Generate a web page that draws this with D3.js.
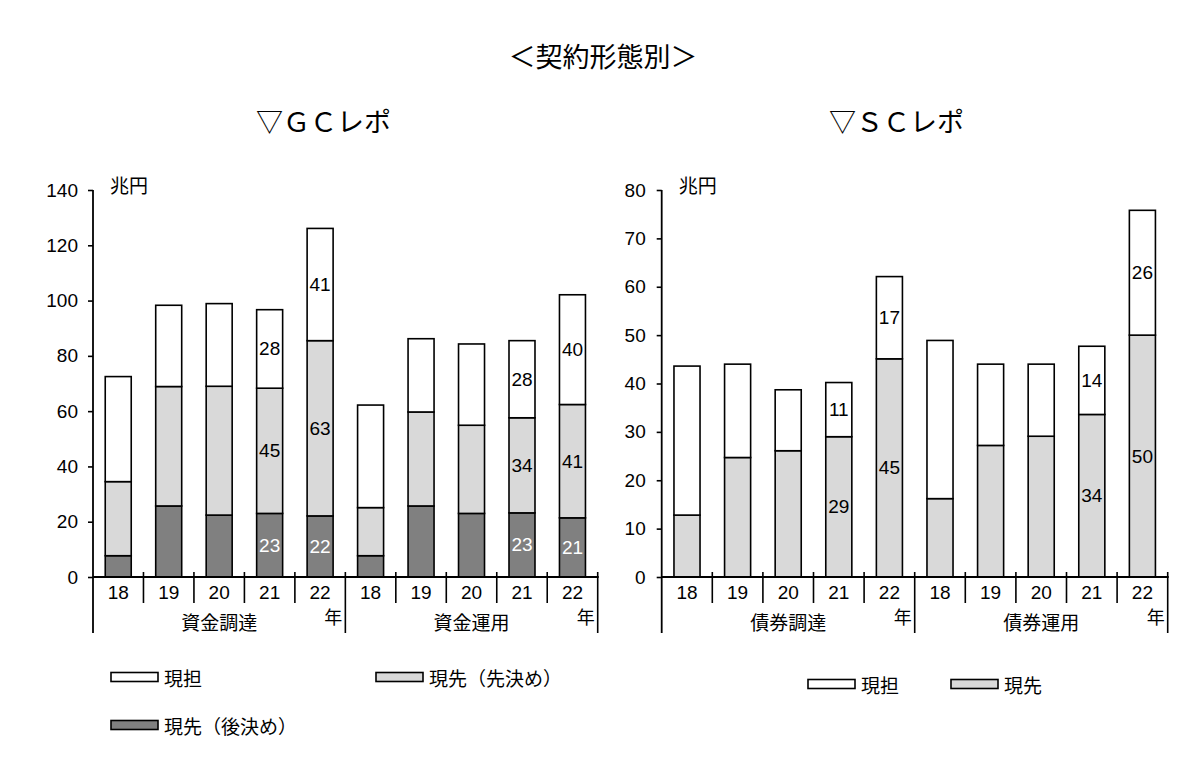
<!DOCTYPE html>
<html>
<head>
<meta charset="utf-8">
<script src="https://cdn.jsdelivr.net/npm/d3@7"></script>
<style>
  body { margin: 0; background: #fff; }
  svg { display: block; }
  .jp { font-family: "Noto Sans CJK JP", "Noto Sans", sans-serif; fill: #000; }
  .num { font-family: "Liberation Sans Narrow", "Liberation Sans", Arial, sans-serif; fill: #000; }
</style>
</head>
<body>
<svg width="1200" height="757"></svg>
<script>
// categories
const years = ["18", "19", "20", "21", "22"];
const gcGroups = ["資金調達", "資金運用"];
const scGroups = ["債券調達", "債券運用"];
const labelYears = ["21", "22"];

// GC repo (兆円), order: 資金調達 18..22, 資金運用 18..22
const gcAtoKime = [7.7, 25.7, 22.4, 23.0, 22.1, 7.7, 25.7, 23.0, 23.2, 21.4];   // 現先（後決め）
const gcSakiKime = [26.8, 43.2, 46.6, 45.3, 63.4, 17.4, 34.0, 31.9, 34.4, 41.0]; // 現先（先決め）
const gcGentan = [38.0, 29.4, 29.9, 28.4, 40.6, 37.1, 26.5, 29.4, 27.9, 39.7];   // 現担

// SC repo (兆円), order: 債券調達 18..22, 債券運用 18..22
const scGensaki = [12.8, 24.7, 26.1, 29.0, 45.1, 16.2, 27.2, 29.1, 33.6, 50.0]; // 現先
const scGentan = [30.8, 19.3, 12.6, 11.2, 17.0, 32.7, 16.8, 14.9, 14.1, 25.8];   // 現担

const gcTicks = [0, 20, 40, 60, 80, 100, 120, 140];
const scTicks = [0, 10, 20, 30, 40, 50, 60, 70, 80];

const svg = d3.select("svg");

// titles
svg.append("text").attr("class", "jp")
    .attr("x", 603).attr("y", 55)
    .attr("text-anchor", "middle").attr("dominant-baseline", "central")
    .attr("font-size", 27)
    .text("＜契約形態別＞");

/**
 * Draw one stacked bar panel
 */
function drawPanel(opt) {
    const g = svg.append("g");
    const keys = [];
    opt.groups.forEach(gr => years.forEach(y => keys.push(gr + "-" + y)));

    const x = d3.scaleBand()
        .domain(keys)
        .range([opt.x0, opt.x1])
        .paddingInner(0.485)
        .paddingOuter(0.2425);
    const step = x.step();

    const y = d3.scaleLinear()
        .domain([0, d3.max(opt.ticks)])
        .range([577, 190]);

    // stacked rows
    const rows = keys.map((k, i) => {
        const row = { key: k, year: k.split("-")[1] };
        opt.series.forEach(s => { row[s.name] = s.values[i]; });
        return row;
    });
    const stack = d3.stack().keys(opt.series.map(s => s.name))(rows);

    stack.forEach((layer, li) => {
        const s = opt.series[li];
        g.append("g").selectAll("rect")
            .data(layer)
            .join("rect")
            .attr("x", d => x(d.data.key))
            .attr("width", x.bandwidth())
            .attr("y", d => y(d[1]))
            .attr("height", d => y(d[0]) - y(d[1]))
            .attr("fill", s.color)
            .attr("stroke", "#000")
            .attr("stroke-width", 1.6);

        g.append("g").selectAll("text")
            .data(layer.filter(d => labelYears.includes(d.data.year)))
            .join("text")
            .attr("class", "num")
            .attr("x", d => x(d.data.key) + x.bandwidth() / 2)
            .attr("y", d => (y(d[0]) + y(d[1])) / 2)
            .attr("text-anchor", "middle")
            .attr("dominant-baseline", "central")
            .attr("font-size", 19)
            .style("fill", s.labelColor)
            .text(d => Math.round(d[1] - d[0]));
    });

    // y axis
    const yAxis = g.append("g")
        .attr("transform", `translate(${opt.x0},0)`)
        .call(d3.axisLeft(y).tickValues(opt.ticks).tickSize(5).tickPadding(opt.tickPad));
    yAxis.select(".domain").remove();
    yAxis.selectAll(".tick line").attr("stroke", "#000").attr("stroke-width", 1.6);
    yAxis.selectAll(".tick text")
        .attr("class", "num")
        .attr("font-size", 19)
        .attr("fill", "#000");

    g.append("line")
        .attr("x1", opt.x0).attr("x2", opt.x0)
        .attr("y1", y.range()[1]).attr("y2", 633)
        .attr("stroke", "#000").attr("stroke-width", 1.8);

    // x axis
    g.append("line")
        .attr("x1", opt.x0).attr("x2", opt.x1 + 1)
        .attr("y1", y(0)).attr("y2", y(0))
        .attr("stroke", "#000").attr("stroke-width", 1.8);

    // dividers between categories
    for (let i = 1; i <= keys.length; i++) {
        const xx = opt.x0 + i * step;
        const groupEdge = i % years.length === 0;
        g.append("line")
            .attr("x1", xx).attr("x2", xx)
            .attr("y1", y(0) - 5).attr("y2", groupEdge ? 633 : 603)
            .attr("stroke", "#000").attr("stroke-width", 1.6);
    }

    // year labels
    g.append("g").selectAll("text")
        .data(keys)
        .join("text")
        .attr("class", "num")
        .attr("x", k => x(k) + x.bandwidth() / 2)
        .attr("y", 592)
        .attr("text-anchor", "middle")
        .attr("dominant-baseline", "central")
        .attr("font-size", 19)
        .text(k => k.split("-")[1]);

    // group labels and 年
    opt.groups.forEach((gr, gi) => {
        const left = opt.x0 + gi * years.length * step;
        const right = left + years.length * step;
        g.append("text").attr("class", "jp")
            .attr("x", (left + right) / 2).attr("y", 621)
            .attr("text-anchor", "middle").attr("dominant-baseline", "central")
            .attr("font-size", 19)
            .text(gr);
        g.append("text").attr("class", "jp")
            .attr("x", right - 3).attr("y", 616)
            .attr("text-anchor", "end").attr("dominant-baseline", "central")
            .attr("font-size", 18)
            .text("年");
    });

    // unit
    g.append("text").attr("class", "jp")
        .attr("x", opt.x0 + 17).attr("y", 184)
        .attr("dominant-baseline", "central")
        .attr("font-size", 19)
        .text("兆円");

    // panel title
    g.append("text").attr("class", "jp")
        .attr("x", opt.titleX).attr("y", 120)
        .attr("dominant-baseline", "central")
        .attr("font-size", 27)
        .text(opt.title);

    // legend
    opt.legend.forEach(l => {
        const s = opt.series.find(d => d.name === l.name);
        g.append("rect")
            .attr("x", l.x).attr("y", l.y - 4.5)
            .attr("width", 47).attr("height", 9)
            .attr("fill", s.color)
            .attr("stroke", "#000").attr("stroke-width", 1.6);
        g.append("text").attr("class", "jp")
            .attr("x", l.x + 53).attr("y", l.y)
            .attr("dominant-baseline", "central")
            .attr("font-size", 19)
            .text(l.name);
    });
}

drawPanel({
    x0: 93, x1: 597.7, ticks: gcTicks, tickPad: 10,
    groups: gcGroups,
    title: "▽ＧＣレポ", titleX: 256,
    series: [
        { name: "現先（後決め）", values: gcAtoKime, color: "#808080", labelColor: "#fff" },
        { name: "現先（先決め）", values: gcSakiKime, color: "#d9d9d9", labelColor: "#000" },
        { name: "現担", values: gcGentan, color: "#fff", labelColor: "#000" }
    ],
    legend: [
        { name: "現担", x: 111, y: 677 },
        { name: "現先（先決め）", x: 376, y: 677 },
        { name: "現先（後決め）", x: 111, y: 725 }
    ]
});

drawPanel({
    x0: 661.7, x1: 1167.7, ticks: scTicks, tickPad: 11,
    groups: scGroups,
    title: "▽ＳＣレポ", titleX: 829,
    series: [
        { name: "現先", values: scGensaki, color: "#d9d9d9", labelColor: "#000" },
        { name: "現担", values: scGentan, color: "#fff", labelColor: "#000" }
    ],
    legend: [
        { name: "現担", x: 808, y: 684 },
        { name: "現先", x: 951, y: 684 }
    ]
});
</script>
</body>
</html>
